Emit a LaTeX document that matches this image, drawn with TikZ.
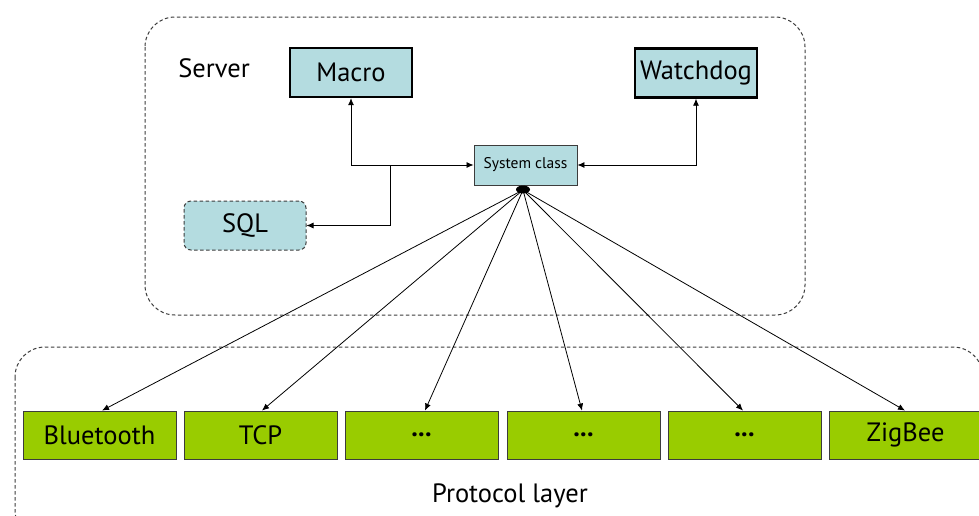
\documentclass[tikz,border=0pt]{standalone}
\usepackage{fontspec}
\setmainfont{PT Sans}
\usetikzlibrary{arrows.meta}
\definecolor{boxblue}{RGB}{180,220,224}
\definecolor{protogreen}{RGB}{153,204,0}
\definecolor{edgegrey}{RGB}{60,60,60}
\tikzset{
  big/.style={font=\fontsize{26.5}{30}\selectfont},
  group/.style={draw=edgegrey, dashed, dash pattern=on 3.5pt off 2.5pt, rounded corners=30pt, line width=1pt},
  mainbox/.style={big, draw=black, fill=boxblue, line width=2.4pt, minimum width=122pt, minimum height=49pt},
  classbox/.style={draw=edgegrey, fill=boxblue, line width=0.9pt, minimum width=103pt, minimum height=40pt, font=\fontsize{15.5}{18}\selectfont},
  dbbox/.style={big, draw=edgegrey, fill=boxblue, dashed, dash pattern=on 3.5pt off 2.5pt, line width=1pt, rounded corners=7pt, minimum width=122pt, minimum height=49pt},
  protobox/.style={big, draw=edgegrey, fill=protogreen, line width=0.9pt, minimum width=153pt, minimum height=48pt},
  link/.style={draw=black, line width=0.8pt},
  tip/.style={-{Latex[length=7pt,width=6pt]}},
  twotip/.style={{Latex[length=7pt,width=6pt]}-{Latex[length=7pt,width=6pt]}},
}
\begin{document}
\begin{tikzpicture}[x=1pt,y=-1pt]
\useasboundingbox (0,0) rectangle (979,515);
\fill[white] (0,0) rectangle (979,515);

% group frames
\draw[group] (145,17) rectangle (805,315);
\begin{scope}
\clip (0,0) rectangle (979,515);
\draw[group] (15,347) rectangle (983,540);
\end{scope}

% server side
\node[big] (srv) at (214,68) {Server};
\node[mainbox] (macro) at (351,72.5) {Macro};
\node[mainbox] (watch) at (696,73) {Watchdog};
\node[classbox] (sys) at (525.5,165) {System class};
\node[dbbox] (sql) at (245,225.5) {SQL};
\fill[black] (523,189.5) ellipse (7pt and 4pt);
\coordinate (hub) at (523,190);

% protocol layer
\node[protobox] (bt) at (99.5,435) {Bluetooth};
\node[protobox] (tcp) at (260.5,435) {TCP};
\node[protobox] (p3) at (421.5,435) {\textbf{...}};
\node[protobox] (p4) at (583.5,435) {\textbf{...}};
\node[protobox] (p5) at (744.5,435) {\textbf{...}};
\node[protobox] (zb) at (905.5,435) {ZigBee};
\node[big] (plabel) at (510,496) {Protocol layer};

% server links
\coordinate (mbend) at (macro.south |- sys.west);
\coordinate (wbend) at (watch.south |- sys.east);
\coordinate (split) at (390,165);
\draw[link,twotip] (macro.south) -- (mbend) -- (sys.west);
\draw[link,twotip] (watch.south) -- (wbend) -- (sys.east);
\draw[link,tip] (split) |- (sql.east);

% fan-out to protocols
\foreach \p/\x in {bt/102, tcp/262, p3/425, p4/582, p5/743, zb/905}
  \draw[link,tip] (hub) -- (\p.north -| \x,0);
\end{tikzpicture}
\end{document}
